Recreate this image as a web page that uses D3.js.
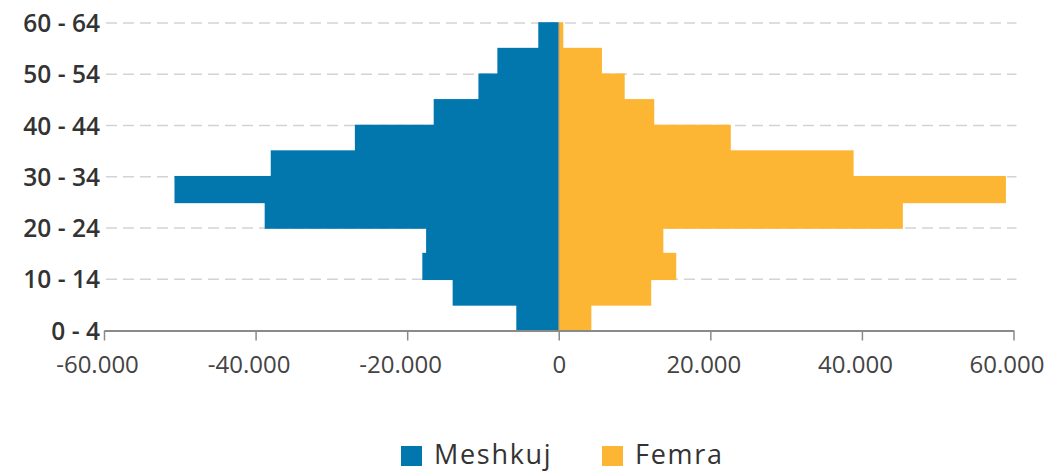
<!DOCTYPE html>
<html>
<head>
<meta charset="utf-8">
<script src="https://cdn.jsdelivr.net/npm/d3@7"></script>
<style>
  html, body { margin: 0; padding: 0; background: #ffffff; }
  svg { display: block; }
</style>
</head>
<body>
<svg id="chart" width="1053" height="473"></svg>
<script>
// Age groups from bottom to top (category positions on the vertical axis)
const ageGroups = ["0 - 4","5 - 9","10 - 14","15 - 19","20 - 24","25 - 29","30 - 34","35 - 39","40 - 44","45 - 49","50 - 54","55 - 59","60 - 64"];
// Labels that are shown on the vertical axis
const shownLabels = ["0 - 4","10 - 14","20 - 24","30 - 34","40 - 44","50 - 54","60 - 64"];
// Bar groups (each bar spans from its group up to the next group position)
const barGroups = ["0 - 4","5 - 9","10 - 14","15 - 19","20 - 24","25 - 29","30 - 34","35 - 39","40 - 44","45 - 49","50 - 54","55 - 59"];
// Series values (absolute counts)
const meshkuj = [5600, 14000, 18000, 17500, 38800, 50700, 38000, 26900, 16500, 10600, 8100, 2700];
const femra   = [4300, 12200, 15500, 13800, 45400, 59000, 38900, 22700, 12600, 8700, 5700, 600];
// Value axis ticks
const xTicks = [-60000, -40000, -20000, 0, 20000, 40000, 60000];
// Legend
const seriesNames = ["Meshkuj", "Femra"];
const seriesColors = ["#0277AD", "#FDB633"];

const svg = d3.select("#chart");

const x = d3.scaleLinear().domain([-60000, 60000]).range([104, 1013.5]);
const y = d3.scalePoint().domain(ageGroups).range([330.5, 23]);

const locale = d3.formatLocale({decimal: ",", thousands: ".", grouping: [3], currency: ["", ""], minus: "-"});
const fmt = locale.format(",.0f");

// Gridlines (dashed) at shown labels, except the bottom one (axis)
svg.append("g")
  .selectAll("line")
  .data(shownLabels.filter(d => d !== "0 - 4"))
  .join("line")
  .attr("x1", x(-60000) + 2)
  .attr("x2", x(60000) + 3)
  .attr("y1", d => y(d))
  .attr("y2", d => y(d))
  .attr("stroke", "#d3d3d3")
  .attr("stroke-width", 1.5)
  .attr("stroke-dasharray", "11,6");

// Bars
const idx = d3.range(barGroups.length);
const barTop = i => y(ageGroups[i + 1]) - 0.8;
const barBottom = i => y(ageGroups[i]) + 0.8;

svg.append("g")
  .selectAll("rect")
  .data(idx)
  .join("rect")
  .attr("x", i => x(-meshkuj[i]))
  .attr("width", i => x(0) - x(-meshkuj[i]))
  .attr("y", i => barTop(i))
  .attr("height", i => barBottom(i) - barTop(i))
  .attr("fill", seriesColors[0]);

svg.append("g")
  .selectAll("rect")
  .data(idx)
  .join("rect")
  .attr("x", x(0))
  .attr("width", i => x(femra[i]) - x(0))
  .attr("y", i => barTop(i))
  .attr("height", i => barBottom(i) - barTop(i))
  .attr("fill", seriesColors[1]);

// Category axis line at zero
svg.append("line")
  .attr("x1", x(0)).attr("x2", x(0))
  .attr("y1", y("60 - 64")).attr("y2", y("0 - 4"))
  .attr("stroke", "#8a8a8a").attr("stroke-width", 1);

// X axis
const xAxis = d3.axisBottom(x)
  .tickValues(xTicks)
  .tickFormat(fmt)
  .tickSizeInner(10)
  .tickSizeOuter(0)
  .tickPadding(15);

const gx = svg.append("g")
  .attr("transform", `translate(0,${y("0 - 4")})`)
  .call(xAxis);
gx.select(".domain").attr("stroke", "#8a8a8a").attr("stroke-width", 2);
gx.selectAll(".tick line").attr("stroke", "#8a8a8a").attr("stroke-width", 1.5);
gx.selectAll(".tick text")
  .attr("fill", "#444")
  .attr("dx", d => d === 0 ? 0 : -7)
  .style("font-family", "'Open Sans', sans-serif")
  .style("font-size", "24px");

// Y labels
const yAxis = d3.axisLeft(y)
  .tickValues(shownLabels)
  .tickSize(0)
  .tickPadding(0);
const gy = svg.append("g")
  .attr("transform", `translate(${x(-60000) - 4},0)`)
  .call(yAxis);
gy.select(".domain").remove();
gy.selectAll(".tick text")
  .attr("fill", "#333")
  .attr("dy", "0.35em")
  .style("font-family", "'Open Sans', sans-serif")
  .style("font-weight", "600")
  .style("font-size", "24.5px");

// Legend
const legendX = [401, 602];
const lg = svg.append("g");
seriesNames.forEach((name, i) => {
  lg.append("rect")
    .attr("x", legendX[i]).attr("y", 446)
    .attr("width", 21).attr("height", 20)
    .attr("fill", seriesColors[i]);
  lg.append("text")
    .attr("x", legendX[i] + 33).attr("y", 464)
    .attr("fill", "#333")
    .style("font-family", "'Open Sans', sans-serif")
    .style("font-size", "27px")
    .style("letter-spacing", "1.7px")
    .text(name);
});
</script>
</body>
</html>
